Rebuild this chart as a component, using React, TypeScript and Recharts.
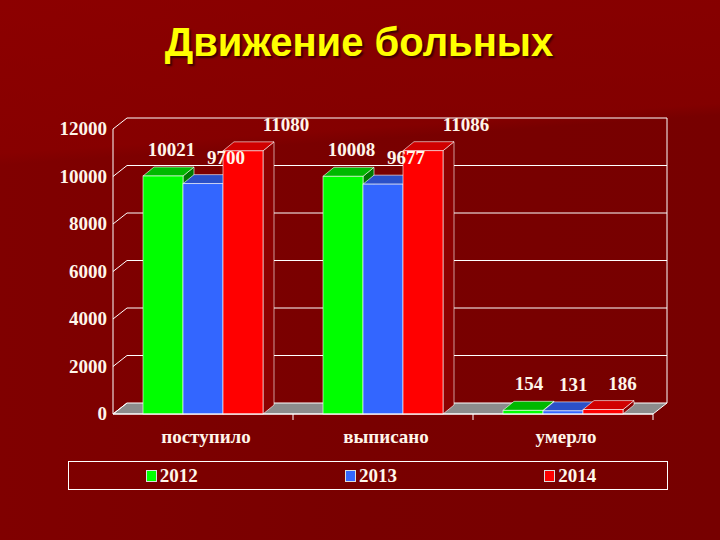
import React from 'react';
import { BarChart, Bar, XAxis, YAxis, CartesianGrid, LabelList } from 'recharts';

const categories = ['поступило', 'выписано', 'умерло'];
const values2012 = [10021, 10008, 154];
const values2013 = [9700, 9677, 131];
const values2014 = [11080, 11086, 186];
const yTicks = [0, 2000, 4000, 6000, 8000, 10000, 12000];
const Y_MAX = 12000;

const data = categories.map((name, i) => ({
  name,
  y2012: values2012[i],
  y2013: values2013[i],
  y2014: values2014[i],
}));

// colours + how far the value label leans right (Excel 3D perspective look)
const series = [
  { key: 'y2012', name: '2012', front: '#00ff00', top: '#00b800', side: '#007800', lean: [6, 3] },
  { key: 'y2013', name: '2013', front: '#3366ff', top: '#2a50c8', side: '#1c3890', lean: [10, 16] },
  { key: 'y2014', name: '2014', front: '#ff0000', top: '#d00000', side: '#8c0000', lean: [19, 26] },
];

const BAR_DX = 11;
const BAR_DY = -9;
const WALL_DX = 14;
const WALL_DY = -11;
const TEXT = '#fff6ea';
const SERIF = '"Liberation Serif", "Times New Roman", serif';

const makeBarShape = (s: any) => (props: any) => {
  const { x, y, width: w, height: h } = props;
  if (w == null || h == null) return <g />;
  const edge = 'rgba(255,255,255,0.75)';
  return (
    <g>
      <polygon
        points={`${x + w},${y} ${x + w + BAR_DX},${y + BAR_DY} ${x + w + BAR_DX},${y + h + BAR_DY} ${x + w},${y + h}`}
        fill={s.side}
        stroke={edge}
        strokeWidth={0.8}
      />
      <polygon
        points={`${x},${y} ${x + BAR_DX},${y + BAR_DY} ${x + w + BAR_DX},${y + BAR_DY} ${x + w},${y}`}
        fill={s.top}
        stroke={edge}
        strokeWidth={0.8}
      />
      <rect x={x} y={y} width={w} height={h} fill={s.front} stroke={edge} strokeWidth={0.8} />
    </g>
  );
};

const makeLabel = (s: any) => (props: any) => {
  const { x, y, width, value } = props;
  const frac = Number(value) / Y_MAX;
  const cx = x + width / 2 + s.lean[0] + s.lean[1] * frac;
  return (
    <text x={cx} y={y - 20} textAnchor="middle" fill={TEXT} fontFamily={SERIF} fontSize={19} fontWeight="bold">
      {value}
    </text>
  );
};

// grid lines are drawn on the back wall; the bottom one becomes the grey floor
const renderGridLine = (props: any) => {
  const { x1, x2, y1, key } = props;
  const top = props.y;
  const bottom = props.y + props.height;
  const isBottom = Math.abs(y1 - bottom) < 0.5;
  const isTop = Math.abs(y1 - top) < 0.5;
  return (
    <g key={key}>
      {isBottom && (
        <polygon
          points={`${x1},${y1} ${x1 + WALL_DX},${y1 + WALL_DY} ${x2 + WALL_DX},${y1 + WALL_DY} ${x2},${y1}`}
          fill="#8c8c8c"
          stroke="#ffffff"
          strokeWidth={1}
        />
      )}
      {isTop && (
        <line
          x1={x2 + WALL_DX}
          y1={top + WALL_DY}
          x2={x2 + WALL_DX}
          y2={bottom + WALL_DY}
          stroke="#ffffff"
          strokeWidth={1}
        />
      )}
      {!isBottom && (
        <line x1={x1 + WALL_DX} y1={y1 + WALL_DY} x2={x2 + WALL_DX} y2={y1 + WALL_DY} stroke="#ffffff" strokeWidth={1} />
      )}
    </g>
  );
};

const YTick = (props: any) => {
  const { x, y, payload } = props;
  return (
    <g>
      <line x1={x} y1={y} x2={x + WALL_DX} y2={y + WALL_DY} stroke="#ffffff" strokeWidth={1} />
      <text x={x - 6} y={y + 6} textAnchor="end" fill={TEXT} fontFamily={SERIF} fontSize={19} fontWeight="bold">
        {payload.value}
      </text>
    </g>
  );
};

const XTick = (props: any) => {
  const { x, y, payload, width, visibleTicksCount } = props;
  const half = width && visibleTicksCount ? width / visibleTicksCount / 2 : 90;
  return (
    <g>
      <line x1={x + half} y1={y} x2={x + half} y2={y + 6} stroke="#ffffff" strokeWidth={1} />
      <text x={x + 3} y={y + 29} textAnchor="middle" fill={TEXT} fontFamily={SERIF} fontSize={19} fontWeight="bold">
        {payload.value}
      </text>
    </g>
  );
};

export default function App() {
  return (
    <div
      style={{
        position: 'absolute',
        left: 0,
        top: 0,
        width: 720,
        height: 540,
        overflow: 'hidden',
        background:
          'linear-gradient(176deg, rgba(150,0,0,0.55) 0%, rgba(145,0,0,0.45) 26%, rgba(0,0,0,0) 28%), linear-gradient(90deg, #800000 0%, #790000 50%, #770000 100%)',
      }}
    >
      <div
        style={{
          position: 'absolute',
          top: 20,
          left: 0,
          width: 718,
          textAlign: 'center',
          fontFamily: '"Liberation Sans", Arial, sans-serif',
          fontWeight: 'bold',
          fontSize: 40,
          color: '#ffff00',
          textShadow: '2px 2px 2px #3a0000',
        }}
      >
        Движение больных
      </div>

      <div style={{ position: 'absolute', left: 0, top: 0 }}>
        <BarChart
          width={720}
          height={540}
          data={data}
          margin={{ top: 129, right: 67, bottom: 96, left: 53 }}
          barCategoryGap="16.67%"
          barGap={0}
        >
          <CartesianGrid vertical={false} horizontal={renderGridLine} />
          <XAxis
            dataKey="name"
            height={30}
            axisLine={{ stroke: '#ffffff' }}
            tickLine={false}
            tickSize={0}
            tickMargin={0}
            tick={<XTick />}
            interval={0}
          />
          <YAxis
            width={60}
            domain={[0, Y_MAX]}
            ticks={yTicks}
            interval={0}
            axisLine={{ stroke: '#ffffff' }}
            tickLine={false}
            tickSize={0}
            tickMargin={0}
            tick={<YTick />}
          />
          {series.map((s) => (
            <Bar key={s.key} dataKey={s.key} name={s.name} fill={s.front} shape={makeBarShape(s)} isAnimationActive={false}>
              <LabelList dataKey={s.key} content={makeLabel(s)} />
            </Bar>
          ))}
        </BarChart>
      </div>

      <div
        style={{
          position: 'absolute',
          left: 68,
          top: 461,
          width: 600,
          height: 29,
          border: '1px solid #ffffff',
          display: 'flex',
          alignItems: 'center',
          boxSizing: 'border-box',
        }}
      >
        {series.map((s) => (
          <div
            key={s.key}
            style={{
              flex: 1,
              display: 'flex',
              alignItems: 'center',
              justifyContent: 'center',
              paddingLeft: 6,
              fontFamily: SERIF,
              fontWeight: 'bold',
              fontSize: 19,
              color: TEXT,
            }}
          >
            <span
              style={{
                display: 'inline-block',
                width: 9,
                height: 10,
                background: s.front,
                border: '1px solid #dddddd',
                marginRight: 3,
              }}
            />
            {s.name}
          </div>
        ))}
      </div>
    </div>
  );
}
